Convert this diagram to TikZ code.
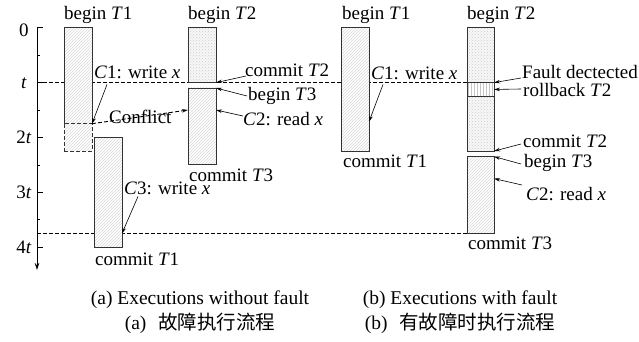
\documentclass[tikz,border=0pt]{standalone}
\usepackage{fontspec}
\setmainfont{Liberation Serif}
\newfontfamily\cjk{Noto Sans CJK SC}
\usetikzlibrary{arrows.meta,patterns}

\begin{document}
\begin{tikzpicture}[x=1pt,y=-1pt,
  lbl/.style={anchor=base west,inner sep=0pt,font=\fontsize{19}{22}\selectfont},
  tlbl/.style={anchor=base,inner sep=0pt,font=\fontsize{19}{22}\selectfont},
  captxt/.style={anchor=base,inner sep=0pt,font=\fontsize{19.5}{22}\selectfont},
  frame/.style={draw=black!80,line width=0.8pt},
  hatch/.style={preaction={fill=white},pattern=north east lines,pattern color=gray!30},
  dotfill/.style={preaction={fill=gray!6},pattern=crosshatch dots,pattern color=gray!40},
  vfill/.style={preaction={fill=white},pattern=vertical lines,pattern color=gray!45},
  ptr/.style={-{Stealth[length=6pt,width=3.5pt]},line width=0.6pt},
  guide/.style={dash pattern=on 4pt off 2pt,line width=1.1pt},
  box/.style={inner sep=0pt,outer sep=0pt,minimum width=28pt,anchor=north west},
]
\useasboundingbox (0,0) rectangle (639,342);

% time axis
\draw[line width=0.8pt,-{Stealth[length=7pt,width=4.5pt]}] (43,27.7) -- (37,27.7) -- (37,270);
\foreach \y in {82.6,137.4,192.3,247.1} \draw[line width=0.8pt] (37,\y) -- (43,\y);
\foreach \y in {55.1,110,164.8,219.7} \draw[line width=0.6pt] (37,\y) -- (40,\y);
\node[tlbl] (l0) at (24,37) {0};
\node[tlbl] (l1) at (24,88.5) {\textit{t}};
\node[tlbl] (l2) at (24,143.5) {2\textit{t}};
\node[tlbl] (l3) at (24,198.5) {3\textit{t}};
\node[tlbl] (l4) at (24,253) {4\textit{t}};

% dashed time guides
\coordinate (g1a) at (37,82.6);
\coordinate (g1b) at (467,82.6);
\coordinate (g2a) at (37,233.4);
\coordinate (g2b) at (467,233.4);
\draw[guide] (g1a) -- (g1b);
\draw[guide] (g2a) -- (g2b);

% ---------- (a) executions without fault ----------
\node[box,hatch,minimum height=96pt] (t1a) at (64,27.7) {};
\draw[frame] (t1a.south west) |- (t1a.north east) -- (t1a.south east);
\node[box,hatch,frame,dash pattern=on 4pt off 2pt,line width=1pt,minimum height=27.4pt] (t1x) at (64,123.7) {};
\node[box,hatch,frame,minimum height=109.7pt] (t1b) at (94,137.4) {};
\node[box,dotfill,frame,minimum height=54.9pt] (t2a) at (188,27.7) {};
\node[box,hatch,frame,minimum height=76.8pt] (t3a) at (188,88) {};

\node[lbl] (bt1a) at (64,20) {begin \textit{T}1};
\node[lbl] (bt2a) at (188,20) {begin \textit{T}2};
\node[lbl] (c1a) at (94,79) {\textit{C}1: write \textit{x}};
\node[lbl] (cfl) at (109,123) {Conflict};
\node[lbl] (c3a) at (124,194) {\textit{C}3: write \textit{x}};
\node[lbl] (ct1a) at (95,265) {commit \textit{T}1};
\node[lbl] (ct2a) at (245,77) {commit \textit{T}2};
\node[lbl] (bt3a) at (248,101) {begin \textit{T}3};
\node[lbl] (c2a) at (243,125) {\textit{C}2: read \textit{x}};
\node[lbl] (ct3a) at (189,181) {commit \textit{T}3};

\draw[ptr] ([xshift=13pt,yshift=-5pt]c1a.south west) -- (t1a.south east);
\draw[ptr,dash pattern=on 4pt off 2pt,line width=0.9pt] (t1a.south east) -- ([yshift=-22pt]t3a.north west);
\draw[ptr] ([xshift=14pt,yshift=-2pt]c3a.south west) -- (t1b.east |- g2a);
\draw[ptr] ([xshift=1pt,yshift=1pt]ct2a.base west) -- (t2a.south east);
\draw[ptr] ([xshift=-1pt,yshift=5pt]bt3a.base west) -- (t3a.north east);
\draw[ptr] ([yshift=9pt]c2a.base west) -- ([yshift=-22pt]t3a.north east);

% ---------- (b) executions with fault ----------
\node[box,hatch,frame,minimum height=123.4pt] (r1) at (341,27.7) {};
\node[box,dotfill,frame,minimum width=27pt,minimum height=123.4pt] (r2) at (467,27.7) {};
\node[box,vfill,frame,minimum width=27pt,minimum height=13.7pt] (rb) at (467,82.6) {};
\node[box,hatch,frame,minimum width=27pt,minimum height=76.8pt] (r3) at (467,156.6) {};

\node[lbl] (bt1b) at (342,20) {begin \textit{T}1};
\node[lbl] (bt2b) at (467,20) {begin \textit{T}2};
\node[lbl] (c1b) at (371,80) {\textit{C}1: write \textit{x}};
\node[lbl] (ct1b) at (343,167) {commit \textit{T}1};
\node[lbl] (flt) at (522,79) {Fault dectected};
\node[lbl] (rbk) at (523,97) {rollback \textit{T}2};
\node[lbl] (ct2b) at (523,147) {commit \textit{T}2};
\node[lbl] (bt3b) at (524,167) {begin \textit{T}3};
\node[lbl] (c2b) at (526,200) {\textit{C}2: read \textit{x}};
\node[lbl] (ct3b) at (468,249) {commit \textit{T}3};

\draw[ptr] ([xshift=12pt,yshift=-4pt]c1b.south west) -- ([yshift=-94pt]r1.north east);
\draw[ptr] ([xshift=-1pt,yshift=1pt]flt.base west) -- (r2.east |- g1b);
\draw[ptr] ([xshift=-2pt,yshift=8pt]rbk.base west) -- (rb.east);
\draw[ptr] ([xshift=-2pt,yshift=3pt]ct2b.base west) -- (r2.south east);
\draw[ptr] ([xshift=-3pt,yshift=3pt]bt3b.base west) -- (r3.north east);
\draw[ptr] ([xshift=-4pt,yshift=15pt]c2b.base west) -- ([yshift=-22pt]r3.north east);

% captions
\node[captxt] (capa) at (200,304) {(a) Executions without fault};
\node[captxt] (capb) at (460,304) {(b) Executions with fault};
\node[captxt] (capac) at (200,329) {(a)\hspace{0.6em}{\cjk 故障执行流程}};
\node[captxt] (capbc) at (460,329) {(b)\hspace{0.6em}{\cjk 有故障时执行流程}};
\end{tikzpicture}
\end{document}
